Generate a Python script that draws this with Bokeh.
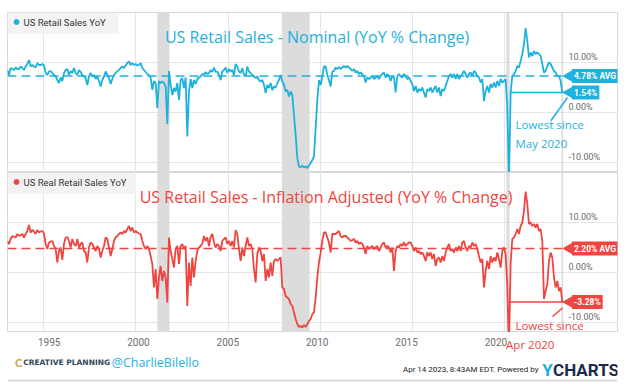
import numpy as np
from bokeh.plotting import figure
from bokeh.models import BoxAnnotation, Label, Span, FixedTicker, Range1d
from bokeh.layouts import column
from bokeh.embed import file_html
from bokeh.resources import INLINE
from bokeh.core.properties import value

# ---------------- data ----------------
first_sample = 1993.04      # decimal year of first reading
sample_step = 0.0903        # years between readings

nominal_yoy = [
    8.5, 7.5, 8.9, 8.7, 8.5, 9.0, 8.7, 8.7, 9.2, 8.9,
    8.5, 9.2, 9.7, 10.5, 9.2, 9.5, 9.2, 9.0, 9.9, 9.5,
    9.5, 9.7, 9.4, 7.9, 7.5, 8.2, 8.3, 7.9, 7.5, 7.2,
    6.5, 5.9, 7.0, 6.3, 7.9, 8.5, 8.7, 7.5, 8.3, 7.9,
    8.9, 7.9, 7.5, 8.5, 8.1, 7.5, 7.2, 6.9, 5.5, 7.2,
    7.9, 7.2, 7.5, 6.7, 7.2, 6.3, 5.2, 6.5, 7.2, 8.2,
    7.5, 6.9, 5.7, 6.7, 7.5, 7.9, 8.3, 8.5, 8.9, 9.2,
    8.9, 9.4, 9.9, 10.2, 9.5, 9.9, 9.5, 9.7, 9.4, 9.5,
    9.9, 8.9, 8.5, 8.1, 7.7, 7.5, 7.0, 4.5, 6.3, 5.9,
    0.9, 6.3, 5.9, 6.2, 5.9, 5.2, -2.3, 8.3,
    5.5, 3.5, 4.9, 4.2, 5.9, 2.5, 6.5, 6.9, 4.9, 7.0,
    -4.8, 4.2, 6.7, 4.9, 6.5, 5.7, 6.7, 7.0, 7.2, 7.7,
    7.5, 8.1, 7.7, 7.9, 8.5, 8.1, 9.0, 8.1, 8.2, 7.5,
    6.5, 8.2, 8.5, 9.0, 7.9, 8.7, 8.2, 8.5, 7.5, 9.7,
    9.2, 8.2, 7.9, 8.9, 7.5, 7.2, 9.2, 8.2, 7.9, 7.5,
    7.2, 6.9, 7.2, 6.5, 6.2, 6.5, 5.5, 3.9, 5.5, 4.9,
    5.9, 4.5, 5.2, 5.0, 5.9, 6.5, 7.5, 6.2, 5.5, 4.2,
    4.5, 3.2, 4.2, 3.5, -0.5, -4.5, -9.1, -10.8, -11.0, -10.6,
    -11.0, -10.8, -11.1, -10.6, -10.1, -9.5, -8.8, -3.1, 2.5, 6.5,
    5.5, 7.2, 9.2, 9.2, 7.5, 6.5, 5.2, 8.2, 8.3,
    9.0, 8.7, 9.1, 8.7, 9.0, 9.3, 9.0, 9.3, 9.0, 8.7,
    8.3, 8.7, 8.0, 8.3, 7.7, 8.0, 7.7, 7.3, 6.0, 7.0,
    6.7, 7.0, 7.3, 6.7, 7.0, 7.3, 6.7, 7.3, 7.7, 8.0,
    7.0, 7.7, 7.3, 6.3, 7.3, 7.0, 4.0, 7.3, 7.7, 7.3,
    7.0, 7.7, 7.3, 6.7, 7.0, 6.3, 5.7, 4.3, 5.3, 4.0,
    4.7, 4.3, 5.0, 4.0, 3.0, 4.7, 4.3, 5.0, 4.0, 4.7,
    5.3, 4.0, 5.0, 3.3, 4.7, 4.3, 5.3, 6.3, 7.3, 7.7,
    7.0, 7.7, 6.7, 7.7, 6.7, 7.3, 7.7, 8.3, 7.7, 7.0,
    7.7, 8.0, 7.3, 8.3, 8.0, 7.3, 7.0, 6.0, 6.7, 2.3,
    4.3, 5.3, 4.0, 5.7, 5.0, 6.0, 5.0, 6.3, 5.3, 6.7,
    6.0, 6.3, 6.7, 1.0, -14.0, 4.0, 7.3, 7.7, 8.3, 9.3,
    9.0, 10.3, 11.7, 13.7, 16.9, 14.3, 11.0, 12.0, 11.3, 12.3,
    11.7, 12.0, 11.7, 11.3, 9.7, 8.0, 8.3, 9.3, 10.0, 9.7,
    9.0, 8.3, 8.0, 7.3, 7.3, 6.3, 4.0,
]

real_yoy = [
    6.3, 5.7, 6.7, 7.3, 7.1, 7.0, 7.7, 7.3, 7.5, 7.7,
    7.0, 7.7, 8.3, 9.5, 8.0, 8.5, 8.2, 7.7, 8.5, 8.0,
    8.2, 8.3, 7.8, 5.7, 4.7, 6.0, 6.2, 6.3, 5.3, 4.7,
    2.0, 4.3, 5.0, 2.5, 5.7, 7.0, 7.1, 6.3, 5.0, 6.7,
    5.7, 5.3, 6.7, 5.0, 5.7, 6.0, 4.3, 4.0, 2.0, 5.0,
    6.0, 5.7, 5.0, 4.3, 5.3, 4.7, 3.0, 4.3, 5.3, 7.0,
    6.7, 5.0, 3.3, 4.7, 6.3, 7.0, 7.3, 7.7, 8.0, 7.7,
    8.3, 8.0, 8.7, 9.3, 8.3, 9.0, 8.0, 8.3, 8.0, 7.8,
    7.7, 6.3, 5.3, 4.7, 5.3, 4.7, 3.3, 1.7, -3.0, 0.7,
    -5.3, -1.0, 1.3, -1.7, 0.3, -1.0, -6.0, 7.0,
    4.3, 2.7, 1.0, 4.7, 5.3, 1.7, 5.3, 5.7, 4.7, 5.3,
    -6.7, 2.0, -2.7, 3.0, -1.0, 2.3, 4.3, 5.0, 5.3, 5.8,
    7.3, 6.3, 7.0, 5.3, 7.1, 7.7, 6.0, 5.0, 5.7, 5.3,
    4.3, 6.3, 6.7, 7.0, 5.7, 6.3, 5.3, 6.3, 5.0, 8.5,
    7.7, 4.7, 2.3, 5.0, 3.3, 5.3, 7.0, 5.3, 5.7, 4.7,
    0.7, -2.0, 3.7, 5.0, 4.3, 2.3, 3.7, -1.7, 0.7, -1.0,
    2.0, -0.7, 2.3, 2.7, 2.3, 2.7, 3.0, -3.0, -3.3, -4.7,
    -5.0, -5.3, -6.3, -6.7, -8.0, -9.3, -10.3, -10.9, -10.7, -11.0,
    -10.5, -10.9, -10.3, -9.7, -9.3, -8.3, -8.0, -5.0, -1.0, 2.0,
    4.0, 6.3, 8.0, 8.0, 7.0, 6.0, 4.0, 7.7, 7.7,
    7.7, 8.0, 8.3, 7.3, 7.0, 7.3, 7.3, 7.0, 6.7, 6.3,
    6.5, 6.7, 6.0, 6.3, 5.7, 6.0, 5.7, 5.0, 3.7, 5.3,
    4.7, 5.0, 5.3, 4.7, 5.0, 5.3, 4.3, 5.0, 5.7, 6.0,
    5.0, 5.3, 5.0, 4.0, 5.0, 0.3, 4.3, 5.3, 5.0, 5.7,
    5.3, 6.0, 5.3, 5.7, 6.0, 6.0, 5.3, 4.3, 5.0, 4.0,
    4.3, 3.7, 4.0, 3.3, 2.3, 4.0, 3.3, 4.0, 2.7, 3.7,
    1.3, 2.7, 3.0, 2.0, 3.3, 2.3, 4.0, 5.0, 5.7, 4.3,
    4.7, 4.0, 5.0, 4.3, 5.3, 4.3, 6.0, 6.3, 5.0, 4.3,
    5.3, 5.0, 6.0, 5.3, 5.7, 4.7, 3.3, 2.0, 2.7, -3.0,
    0.3, 2.3, 0.7, 3.3, 2.0, 3.0, 2.3, 4.0, 2.7, 1.0,
    4.3, 5.0, 3.7, -3.0, -15.0, 2.0, 6.7, 7.0, 7.7, 8.7,
    7.7, 9.3, 10.0, 12.3, 16.2, 13.7, 9.7, 10.0, 9.3, 9.7,
    9.0, 9.7, 8.3, 8.7, 6.3, -5.3, -3.7, -2.3, 2.3, 4.0,
    3.0, -1.0, -3.0, -1.7, -3.7, -3.0, -5.9,
]

dates = first_sample + sample_step * np.arange(len(nominal_yoy))

recession_start = [2001.17, 2007.92, 2020.08]
recession_end = [2001.83, 2009.42, 2020.25]

y_ticks = [10, 0, -10]
y_tick_labels = ["10.00%", "0.00%", "-10.00%"]
x_ticks = [1995, 2000, 2005, 2010, 2015, 2020]
x_tick_labels = ["1995", "2000", "2005", "2010", "2015", "2020"]

# annotation levels as drawn in the picture, with their printed texts
nominal_avg_level, nominal_avg_text = 7.3, "4.78% AVG"
nominal_last_level, nominal_last_text = 4.0, "1.54%"
nominal_low_since = 2020.33
real_avg_level, real_avg_text = 4.8, "2.20% AVG"
real_last_level, real_last_text = -5.9, "-3.28%"
real_low_since = 2020.25

# ---------------- styling / layout ----------------
CYAN = "#1fb1dd"
RED = "#ef4540"
GRID = "#e6e6e6"
SANS = "Roboto"
HAND = "Open Sans"
W = 630
LEFT, RIGHT = 7, 13                 # borders around the plot frames (px)
X0, X1 = 1993.05, 2026.1
Y0, Y1 = -12, 20
PXY = (W - LEFT - RIGHT) / (X1 - X0)  # px per year
CALLOUT_X = 2023.47
TICK_X = 2023.44
NOTE_X = 2020.57


def panel(values, color, title, title_x, legend, legend_right,
          avg_level, avg_text, last_level, last_text, low_since, diag, top):
    p = figure(width=W, height=172 if top else 160,
               x_range=Range1d(X0, X1), y_range=Range1d(Y0, Y1),
               output_backend="svg", toolbar_location=None,
               x_axis_location=None, y_axis_location=None,
               min_border_left=LEFT, min_border_right=RIGHT,
               min_border_top=12 if top else 0, min_border_bottom=0,
               background_fill_color="white", border_fill_color="white")
    p.outline_line_color = "#d8d8d8"
    p.ygrid.ticker = FixedTicker(ticks=y_ticks)
    p.xgrid.ticker = FixedTicker(ticks=x_ticks)
    p.ygrid.grid_line_color = GRID
    p.xgrid.grid_line_color = GRID

    for s, e in zip(recession_start, recession_end):
        p.add_layout(BoxAnnotation(left=s, right=e, fill_color="#dcdcdc",
                                   fill_alpha=1, line_color=None, level="underlay"))
    p.add_layout(Span(location=float(dates[-1]), dimension="height",
                      line_color="#d9d9d9", line_width=1.5, level="underlay"))

    # legend box
    p.add_layout(BoxAnnotation(left=X0, right=legend_right, top=Y1, bottom=15.7,
                               fill_color="#f3f3f3", fill_alpha=1, line_color=None,
                               level="underlay"))
    p.scatter(x=[1993.54], y=[18.1], size=5, color=color)
    p.add_layout(Label(x=1993.92, y=18.1, text=legend, text_baseline="middle",
                       text_font=SANS, text_font_size="9.5px", text_color="#333333"))

    # title
    p.add_layout(Label(x=title_x, y=15.2, text=title, text_align="center",
                       text_baseline="middle", text_font=HAND,
                       text_font_size="16px", text_color=color))

    # y tick labels inside the plot
    p.text(x=[TICK_X] * len(y_ticks), y=y_ticks, text=y_tick_labels,
           text_baseline="bottom", y_offset=-1, text_font=value(SANS),
           text_font_size="9px", text_color="#6a6a6a")

    # series
    p.line(dates, values, line_color=color, line_width=1.8)

    # average and last value lines
    p.segment(x0=[X0], y0=[avg_level], x1=[CALLOUT_X], y1=[avg_level],
              line_color=color, line_width=1.6, line_dash="9 5")
    p.segment(x0=[low_since], y0=[last_level], x1=[CALLOUT_X], y1=[last_level],
              line_color=color, line_width=1.6)

    for lvl, txt in ((avg_level, avg_text), (last_level, last_text)):
        p.scatter(x=[CALLOUT_X], y=[lvl], marker="triangle", angle=np.pi / 2,
                  size=10, color=color)
        p.add_layout(Label(x=CALLOUT_X, y=lvl, x_offset=3, text=txt,
                           text_baseline="middle", text_font=SANS,
                           text_font_style="bold", text_font_size="8.5px",
                           text_color="white", background_fill_color=color,
                           padding=2))

    # "Lowest since" note
    p.segment(x0=[diag[0]], y0=[diag[1]], x1=[diag[2]], y1=[diag[3]],
              line_color=color, line_width=1.5)
    p.add_layout(Label(x=NOTE_X, y=diag[4], text="Lowest since",
                       text_baseline="middle", text_font=HAND,
                       text_font_size="11.5px", text_color=color))
    if diag[5] is not None:
        p.add_layout(Label(x=NOTE_X, y=diag[5], text=diag[6],
                           text_baseline="middle", text_font=HAND,
                           text_font_size="11.5px", text_color=color))
    return p


top = panel(nominal_yoy, CYAN, "US Retail Sales - Nominal (YoY % Change)", 2009.82,
            "US Retail Sales YoY", 1999.08,
            nominal_avg_level, nominal_avg_text, nominal_last_level, nominal_last_text,
            nominal_low_since, (2022.49, -1.66, 2023.39, 3.0, -2.46, -6.2, "May 2020"),
            top=True)

bot = panel(real_yoy, RED, "US Retail Sales - Inflation Adjusted (YoY % Change)", 2010.31,
            "US Real Retail Sales YoY", 2000.0,
            real_avg_level, real_avg_text, real_last_level, real_last_text,
            real_low_since, (2022.58, -8.8, 2023.12, -7.1, -10.5, None, None),
            top=False)

# footer strip: same time scale, y measured in page pixels (top = 332)
foot = figure(width=W, height=50,
              x_range=Range1d(X0 - LEFT / PXY, X1 + RIGHT / PXY),
              y_range=Range1d(382, 332),
              output_backend="svg", toolbar_location=None,
              x_axis_location=None, y_axis_location=None,
              min_border_left=0, min_border_right=0, min_border_top=0,
              min_border_bottom=0, background_fill_color="white",
              border_fill_color="white")
foot.outline_line_color = None
foot.xgrid.visible = False
foot.ygrid.visible = False
foot.text(x=x_ticks, y=[341] * len(x_ticks), text=x_tick_labels,
          text_align="center", text_baseline="middle", text_font=value(SANS),
          text_font_size="10px", text_color="#6e6e6e")
foot.add_layout(Label(x=NOTE_X, y=344, text="Apr 2020", text_baseline="middle",
                      text_font=HAND, text_font_size="11.5px", text_color=RED))
foot.add_layout(Label(x=1993.09, y=362, text="C", text_baseline="middle",
                      text_font="Lato", text_font_style="bold", text_font_size="11px",
                      text_color="#c8a24a"))
foot.add_layout(Label(x=1993.55, y=362, text="CREATIVE PLANNING", text_baseline="middle",
                      text_font="DejaVu Sans", text_font_style="bold",
                      text_font_size="7.5px", text_color="#2f4a5a"))
foot.add_layout(Label(x=1998.5, y=362, text="@CharlieBilello", text_baseline="middle",
                      text_font=HAND, text_font_size="12.5px", text_color=CYAN))
foot.add_layout(Label(x=2022.5, y=369, text="Apr 14 2023, 8:43AM EDT.  Powered by",
                      text_align="right", text_baseline="middle", text_font=SANS,
                      text_font_size="8px", text_color="#222222"))
foot.add_layout(Label(x=2022.6, y=369, text="Y", text_baseline="middle",
                      text_font=SANS, text_font_style="bold",
                      text_font_size="17px", text_color=CYAN))
foot.add_layout(Label(x=2023.2, y=369, text="CHARTS", text_baseline="middle",
                      text_font=SANS, text_font_style="bold",
                      text_font_size="17px", text_color="#1c2a4a"))
foot.segment(x0=[X0 - LEFT / PXY], y0=[380], x1=[X1 + RIGHT / PXY], y1=[380],
             line_color="#d0d0d0", line_width=1.5)

layout = column(top, bot, foot, spacing=0)
open("out.html", "w").write(file_html(layout, INLINE))
